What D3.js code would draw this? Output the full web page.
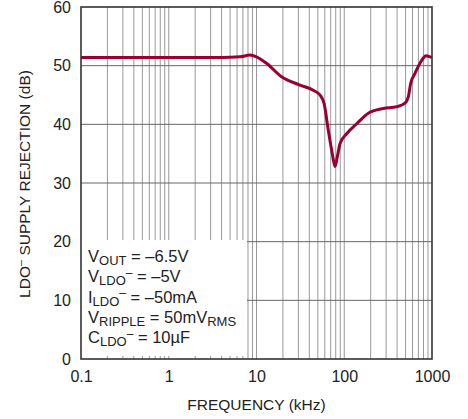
<!DOCTYPE html>
<html>
<head>
<meta charset="utf-8">
<script src="https://cdn.jsdelivr.net/npm/d3@7"></script>
<style>
  body { margin: 0; background: #fff; }
  text { font-family: "Liberation Sans", Arial, sans-serif; fill: #222; }
</style>
</head>
<body>
<script>
// PSRR curve (kHz, dB)
var freq = [0.1, 1, 4, 6.5, 8.4, 10, 13, 19.3, 31.3, 44.4, 52.9, 58.8, 65.8, 73.1, 78.5, 83.4, 89.5, 106.6, 138.7, 188, 279, 396, 492, 537, 572, 640, 763, 855, 949, 1000];
var psrr = [51.4, 51.4, 51.4, 51.5, 51.8, 51.5, 50.4, 48.1, 46.7, 45.8, 45.0, 43.6, 39.0, 35.0, 32.8, 34.5, 36.7, 38.4, 40.1, 41.9, 42.7, 43.0, 43.6, 44.7, 47.0, 48.7, 50.9, 51.7, 51.5, 51.4];

var xTicks = [0.1, 1, 10, 100, 1000];
var xTickLabels = ['0.1', '1', '10', '100', '1000'];
var yTicks = [0, 10, 20, 30, 40, 50, 60];

// conditions box, each line split into normal / sub / sup parts
var notes = [
  [['V', ''], ['OUT', 'sub'], [' = –6.5V', '']],
  [['V', ''], ['LDO', 'sub'], ['–', 'sup'], [' = –5V', '']],
  [['I', ''], ['LDO', 'sub'], ['–', 'sup'], [' = –50mA', '']],
  [['V', ''], ['RIPPLE', 'sub'], [' = 50mV', ''], ['RMS', 'sub']],
  [['C', ''], ['LDO', 'sub'], ['–', 'sup'], [' = 10µF', '']]
];

const w = 468, h = 419;
const pl = 81, pr = 432, pt = 7, pb = 359;

const svg = d3.select('body').append('svg').attr('width', w).attr('height', h);

const x = d3.scaleLog().domain([0.1, 1000]).range([pl, pr]);
const y = d3.scaleLinear().domain([0, 60]).range([pb, pt]);

// minor log grid
var gridX = [];
for (var dec = 0.1; dec < 1000; dec *= 10) {
  for (var k = 1; k < 10; k++) gridX.push(dec * k);
}

svg.append('g').selectAll('line').data(gridX.filter(d => d > 0.11)).enter().append('line')
  .attr('x1', d => x(d)).attr('x2', d => x(d))
  .attr('y1', pt).attr('y2', pb)
  .attr('stroke', '#999').attr('stroke-width', 1);

svg.append('g').selectAll('line').data(yTicks.slice(1, -1)).enter().append('line')
  .attr('x1', pl).attr('x2', pr)
  .attr('y1', d => y(d)).attr('y2', d => y(d))
  .attr('stroke', '#666').attr('stroke-width', 1);

// white box behind the conditions
svg.append('rect').attr('x', pl).attr('y', 240).attr('width', 166).attr('height', 116).attr('fill', '#fff');

const line = d3.line().x((d, i) => x(freq[i])).y(d => y(d)).curve(d3.curveMonotoneX);

svg.append('path').datum(psrr).attr('d', line)
  .attr('fill', 'none').attr('stroke', '#990030').attr('stroke-width', 3).attr('stroke-linejoin', 'round');

// frame
svg.append('rect').attr('x', pl).attr('y', pt).attr('width', pr - pl).attr('height', pb - pt)
  .attr('fill', 'none').attr('stroke', '#333').attr('stroke-width', 1.6);

// axes (labels only, frame already drawn)
const xAxis = d3.axisBottom(x).tickValues(xTicks).tickSize(0).tickPadding(12).tickFormat((d, i) => xTickLabels[i]);
const yAxis = d3.axisLeft(y).tickValues(yTicks).tickSize(0).tickPadding(10);

const gx = svg.append('g').attr('transform', 'translate(0,' + pb + ')').call(xAxis);
const gy = svg.append('g').attr('transform', 'translate(' + pl + ',0)').call(yAxis);
[gx, gy].forEach(g => {
  g.select('.domain').remove();
  g.selectAll('text').attr('font-size', 16).attr('fill', '#222')
    .style('font-family', '"Liberation Sans", Arial, sans-serif');
});

svg.append('text').attr('x', (pl + pr) / 2).attr('y', 410).attr('text-anchor', 'middle')
  .attr('font-size', 15.5).text('FREQUENCY (kHz)');

const yl = svg.append('text').attr('transform', 'translate(30,184) rotate(-90)').attr('text-anchor', 'middle')
  .attr('font-size', 15.5);
yl.append('tspan').text('LDO');
yl.append('tspan').attr('dy', -6).attr('font-size', 11).text('–');
yl.append('tspan').attr('dy', 6).text(' SUPPLY REJECTION (dB)');

const nt = svg.append('g');
notes.forEach((parts, li) => {
  var t = nt.append('text').attr('x', 88).attr('y', 262 + li * 20.3).attr('font-size', 16.5);
  var shift = 0;
  parts.forEach(p => {
    var dy = 0, fs = 16.5;
    if (p[1] === 'sub') { dy = 3 - shift; shift = 3; fs = 13; }
    else if (p[1] === 'sup') { dy = -5.5 - shift; shift = -5.5; fs = 12; }
    else { dy = -shift; shift = 0; }
    t.append('tspan').attr('dy', dy).attr('font-size', fs).text(p[0]);
  });
});
</script>
</body>
</html>
